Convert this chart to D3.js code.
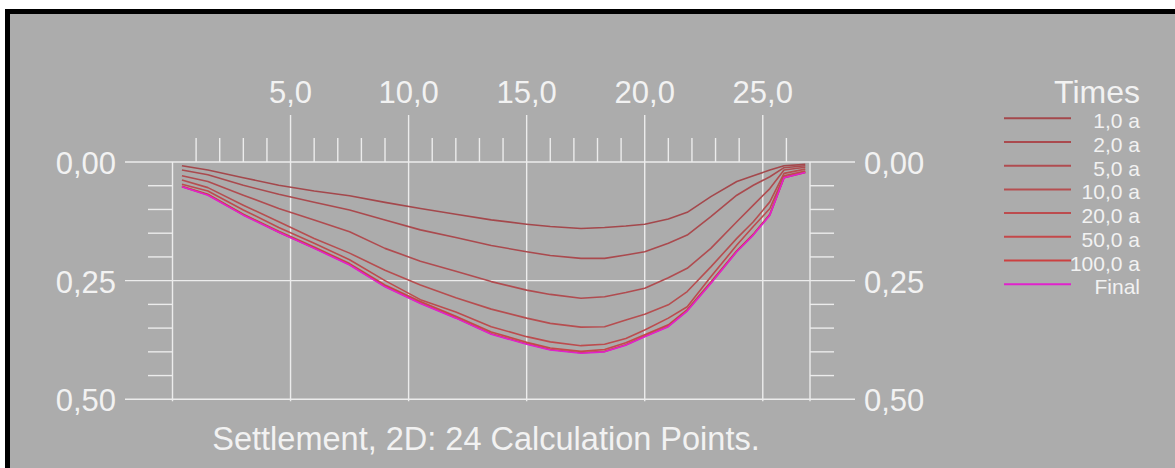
<!DOCTYPE html>
<html>
<head>
<meta charset="utf-8">
<script src="https://cdn.jsdelivr.net/npm/d3@7"></script>
<style>
  html, body { margin: 0; padding: 0; background: #ffffff; }
  svg { display: block; }
  text { font-family: "Liberation Sans", Arial, sans-serif; fill: #f2f2f2; }
</style>
</head>
<body>
<svg id="chart" width="1175" height="468"></svg>
<script>
// ---- data ----
const xPoints = [0.4, 1.5, 3.0, 4.5, 6.0, 7.5, 9.0, 10.5, 12.0, 13.5, 15.0, 16.0, 17.3, 18.3, 19.2, 20.0, 21.0, 21.8, 22.8, 23.9, 24.6, 25.3, 25.9, 26.8];
const seriesNames = ["1,0 a", "2,0 a", "5,0 a", "10,0 a", "20,0 a", "50,0 a", "100,0 a", "Final"];
const s1 = [0.008, 0.017, 0.033, 0.049, 0.061, 0.071, 0.085, 0.098, 0.110, 0.122, 0.131, 0.136, 0.140, 0.138, 0.135, 0.131, 0.120, 0.106, 0.073, 0.041, 0.029, 0.017, 0.008, 0.005];
const s2 = [0.017, 0.027, 0.049, 0.068, 0.085, 0.101, 0.122, 0.143, 0.159, 0.176, 0.189, 0.197, 0.203, 0.203, 0.196, 0.189, 0.171, 0.154, 0.115, 0.070, 0.049, 0.031, 0.012, 0.008];
const s3 = [0.029, 0.041, 0.070, 0.098, 0.122, 0.147, 0.182, 0.209, 0.230, 0.252, 0.270, 0.279, 0.287, 0.284, 0.275, 0.266, 0.244, 0.224, 0.182, 0.126, 0.091, 0.056, 0.017, 0.011];
const s4 = [0.038, 0.054, 0.091, 0.126, 0.161, 0.192, 0.228, 0.259, 0.286, 0.310, 0.329, 0.340, 0.348, 0.347, 0.333, 0.321, 0.301, 0.273, 0.221, 0.161, 0.126, 0.084, 0.024, 0.015];
const s5 = [0.047, 0.061, 0.101, 0.138, 0.171, 0.206, 0.250, 0.290, 0.316, 0.347, 0.368, 0.379, 0.387, 0.384, 0.372, 0.354, 0.329, 0.305, 0.242, 0.175, 0.136, 0.098, 0.029, 0.019];
const s6 = [0.051, 0.068, 0.110, 0.146, 0.179, 0.214, 0.259, 0.294, 0.325, 0.358, 0.380, 0.392, 0.399, 0.395, 0.381, 0.364, 0.343, 0.311, 0.253, 0.187, 0.152, 0.110, 0.032, 0.021];
const s7 = [0.052, 0.069, 0.111, 0.148, 0.181, 0.216, 0.262, 0.297, 0.328, 0.362, 0.383, 0.395, 0.402, 0.399, 0.385, 0.367, 0.346, 0.313, 0.255, 0.188, 0.153, 0.111, 0.033, 0.022];
const sFinal = [0.052, 0.070, 0.112, 0.148, 0.182, 0.217, 0.263, 0.298, 0.329, 0.363, 0.384, 0.396, 0.403, 0.400, 0.386, 0.368, 0.347, 0.314, 0.256, 0.189, 0.154, 0.112, 0.033, 0.022];
const seriesValues = [s1, s2, s3, s4, s5, s6, s7, sFinal];
const seriesColors = ["#a4484c", "#aa4a4e", "#b04c50", "#b64e50", "#bc4c4e", "#c4484a", "#cc4040", "#e022cc"];
const xMajorTicks = [5, 10, 15, 20, 25];
const xMajorLabels = ["5,0", "10,0", "15,0", "20,0", "25,0"];
const xMinorTicks = [1, 2, 3, 4, 6, 7, 8, 9, 11, 12, 13, 14, 16, 17, 18, 19, 21, 22, 23, 24, 26];
const yMajorTicks = [0, 0.25, 0.5];
const yMajorLabels = ["0,00", "0,25", "0,50"];
const yMinorTicks = [0.05, 0.1, 0.15, 0.2, 0.3, 0.35, 0.4, 0.45];
const chartTitle = "Settlement, 2D: 24 Calculation Points.";
const legendTitle = "Times";

// ---- drawing ----
const svg = d3.select("#chart");
const x = d3.scaleLinear().domain([0, 27]).range([172.5, 810]);
const y = d3.scaleLinear().domain([0, 0.5]).range([162, 399.3]);
const grid = "#ececec";

// frame
svg.append("rect").attr("x", 7.5).attr("y", 11.5).attr("width", 1200).attr("height", 500)
  .attr("fill", "#acacac").attr("stroke", "#000").attr("stroke-width", 5);

const g = svg.append("g").attr("stroke", grid).attr("stroke-width", 1.4).attr("fill", "none");

// horizontal major lines
g.selectAll(".hmaj").data(yMajorTicks).enter().append("line")
  .attr("x1", 125).attr("x2", 855).attr("y1", d => y(d)).attr("y2", d => y(d));
// boundary verticals
g.selectAll(".vb").data([0, 27]).enter().append("line")
  .attr("x1", d => x(d)).attr("x2", d => x(d)).attr("y1", y(0)).attr("y2", y(0.5) + 2);
// vertical major lines
g.selectAll(".vmaj").data(xMajorTicks).enter().append("line")
  .attr("x1", d => x(d)).attr("x2", d => x(d)).attr("y1", 115).attr("y2", y(0.5) + 2);
// top minor ticks
g.selectAll(".xmin").data(xMinorTicks).enter().append("line")
  .attr("x1", d => x(d)).attr("x2", d => x(d)).attr("y1", 138).attr("y2", y(0));
// left minor ticks
g.selectAll(".ylmin").data(yMinorTicks).enter().append("line")
  .attr("x1", 148).attr("x2", x(0)).attr("y1", d => y(d)).attr("y2", d => y(d));
// right minor ticks
g.selectAll(".yrmin").data(yMinorTicks).enter().append("line")
  .attr("x1", x(27)).attr("x2", 834).attr("y1", d => y(d)).attr("y2", d => y(d));

// tick labels
svg.selectAll(".xl").data(xMajorTicks).enter().append("text")
  .attr("x", d => x(d)).attr("y", 103).attr("text-anchor", "middle")
  .attr("font-size", 31).text((d, i) => xMajorLabels[i]);
svg.selectAll(".yll").data(yMajorTicks).enter().append("text")
  .attr("x", 116).attr("y", d => y(d) + 12).attr("text-anchor", "end")
  .attr("font-size", 31).text((d, i) => yMajorLabels[i]);
svg.selectAll(".ylr").data(yMajorTicks).enter().append("text")
  .attr("x", 864).attr("y", d => y(d) + 12).attr("text-anchor", "start")
  .attr("font-size", 31).text((d, i) => yMajorLabels[i]);

// title
svg.append("text").attr("x", 486).attr("y", 450).attr("text-anchor", "middle")
  .attr("font-size", 32.5).text(chartTitle);

// series
const line = d3.line().x((d, i) => x(xPoints[i])).y(d => y(d));
svg.append("g").selectAll("path").data(seriesValues).enter().append("path")
  .attr("d", d => line(d)).attr("fill", "none")
  .attr("stroke", (d, i) => seriesColors[i]).attr("stroke-width", 1.6)
  .attr("stroke-linejoin", "round");

// legend
svg.append("text").attr("x", 1140).attr("y", 103).attr("text-anchor", "end")
  .attr("font-size", 32).text(legendTitle);
const lg = svg.append("g").selectAll("g").data(seriesNames).enter().append("g")
  .attr("transform", (d, i) => `translate(0, ${118.3 + i * 23.7})`);
lg.append("line").attr("x1", 1004).attr("x2", 1071).attr("y1", 0).attr("y2", 0)
  .attr("stroke", (d, i) => seriesColors[i]).attr("stroke-width", 2);
lg.append("text").attr("x", 1140).attr("y", 10).attr("text-anchor", "end")
  .attr("font-size", 21).text(d => d);
</script>
</body>
</html>
